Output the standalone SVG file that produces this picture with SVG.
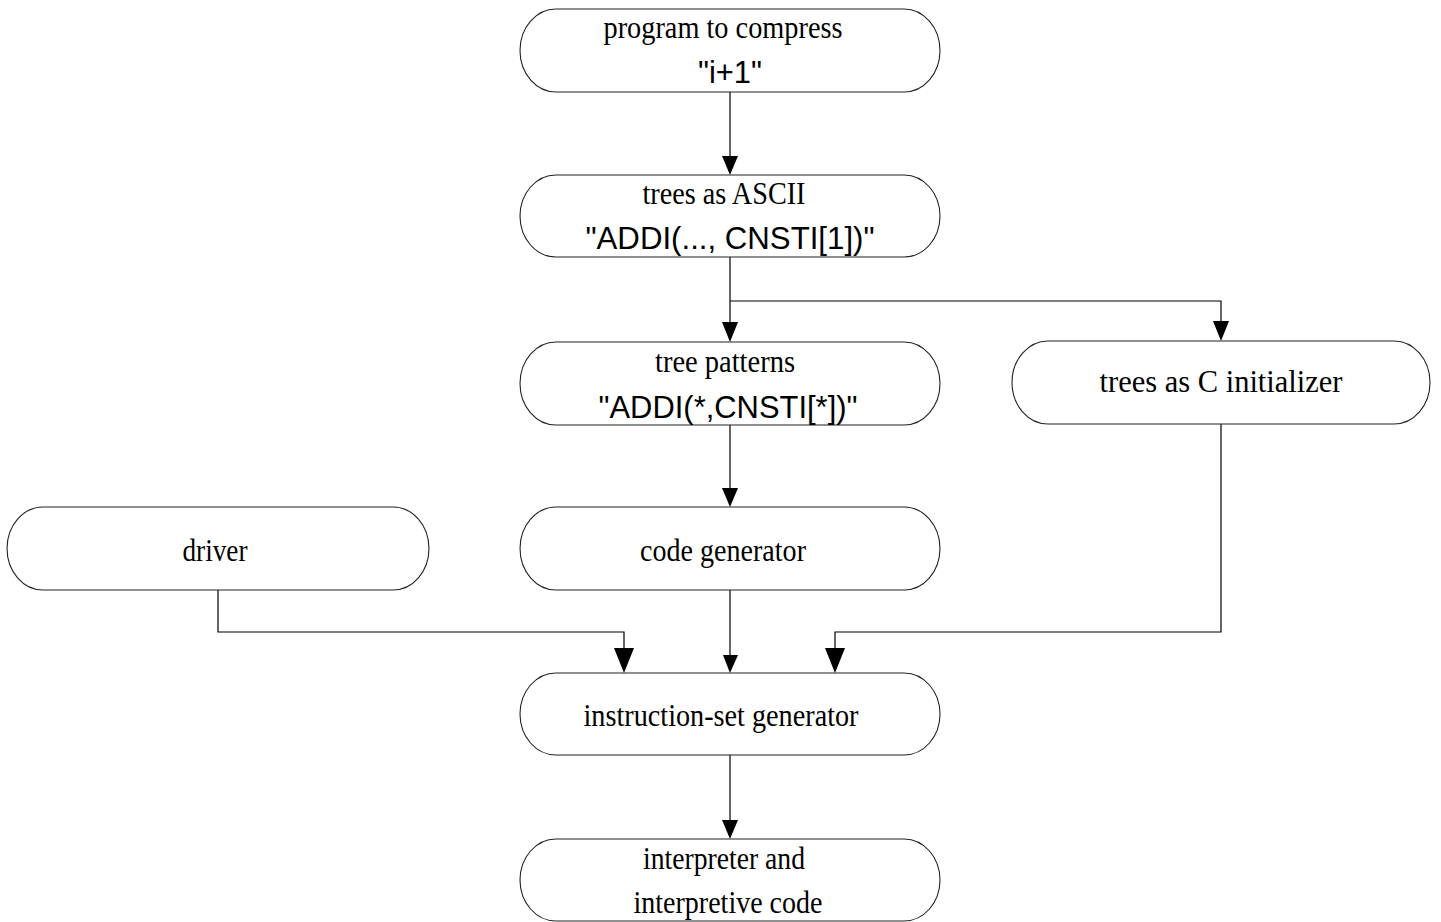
<svg xmlns="http://www.w3.org/2000/svg" width="1441" height="922" viewBox="0 0 1441 922">
<style>
.n{fill:#fff;stroke:#222;stroke-width:1.1}
.t{font-family:"Liberation Serif","Times New Roman",serif;font-size:31px;fill:#000;text-anchor:middle}
.s{font-family:"Liberation Sans",Arial,sans-serif;font-size:32px;fill:#000;text-anchor:middle}
.c{fill:none;stroke:#000;stroke-width:1.2}
.a{fill:#000;stroke:none}
</style>
<rect width="1441" height="922" fill="#fff"/>
<g id="connectors">
<path class="c" d="M730,92 V160"/>
<polygon class="a" points="722,156 738,156 730,175"/>
<path class="c" d="M730,257 V325 M730,301 H1221 V324"/>
<polygon class="a" points="722,322 738,322 730,342"/>
<polygon class="a" points="1213,321 1229,321 1221,341"/>
<path class="c" d="M730,425 V490"/>
<polygon class="a" points="722,488 738,488 730,507"/>
<path class="c" d="M730,590 V656"/>
<polygon class="a" points="723,655 738,655 730,673"/>
<path class="c" d="M218,590 V632 H624 V650"/>
<polygon class="a" points="614,648 634,648 624,673"/>
<path class="c" d="M1221,424 V632 H835 V650"/>
<polygon class="a" points="825,648 845,648 835,673"/>
<path class="c" d="M730,755 V822"/>
<polygon class="a" points="722,820 738,820 730,839"/>
</g>
<g id="node-program">
<path class="n" d="M556,9 H904 A36,41.5 0 0 1 904,92 H556 A36,41.5 0 0 1 556,9 Z"/>
<text class="t" x="723" y="38" textLength="239" lengthAdjust="spacingAndGlyphs">program to compress</text>
<text class="s" x="730" y="83" textLength="64" lengthAdjust="spacingAndGlyphs">"i+1"</text>
</g>
<g id="node-ascii">
<path class="n" d="M556,175 H904 A36,41 0 0 1 904,257 H556 A36,41 0 0 1 556,175 Z"/>
<text class="t" x="724" y="204" textLength="163" lengthAdjust="spacingAndGlyphs">trees as ASCII</text>
<text class="s" x="730" y="249" textLength="289" lengthAdjust="spacingAndGlyphs">"ADDI(..., CNSTI[1])"</text>
</g>
<g id="node-patterns">
<path class="n" d="M556,342 H904 A36,41.5 0 0 1 904,425 H556 A36,41.5 0 0 1 556,342 Z"/>
<text class="t" x="725" y="372" textLength="140" lengthAdjust="spacingAndGlyphs">tree patterns</text>
<text class="s" x="728" y="418" textLength="259" lengthAdjust="spacingAndGlyphs">"ADDI(*,CNSTI[*])"</text>
</g>
<g id="node-cinit">
<path class="n" d="M1048,341 H1394 A36,41.5 0 0 1 1394,424 H1048 A36,41.5 0 0 1 1048,341 Z"/>
<text class="t" x="1221" y="392" textLength="243" lengthAdjust="spacingAndGlyphs">trees as C initializer</text>
</g>
<g id="node-driver">
<path class="n" d="M43,507 H393 A36,41.5 0 0 1 393,590 H43 A36,41.5 0 0 1 43,507 Z"/>
<text class="t" x="215" y="561" textLength="65" lengthAdjust="spacingAndGlyphs">driver</text>
</g>
<g id="node-codegen">
<path class="n" d="M556,507 H904 A36,41.5 0 0 1 904,590 H556 A36,41.5 0 0 1 556,507 Z"/>
<text class="t" x="723" y="561" textLength="166" lengthAdjust="spacingAndGlyphs">code generator</text>
</g>
<g id="node-isgen">
<path class="n" d="M556,673 H904 A36,41 0 0 1 904,755 H556 A36,41 0 0 1 556,673 Z"/>
<text class="t" x="721" y="726" textLength="275" lengthAdjust="spacingAndGlyphs">instruction-set generator</text>
</g>
<g id="node-interp">
<path class="n" d="M556,839 H904 A36,41 0 0 1 904,921 H556 A36,41 0 0 1 556,839 Z"/>
<text class="t" x="724" y="869" textLength="162" lengthAdjust="spacingAndGlyphs">interpreter and</text>
<text class="t" x="728" y="913" textLength="189" lengthAdjust="spacingAndGlyphs">interpretive code</text>
</g>
</svg>
